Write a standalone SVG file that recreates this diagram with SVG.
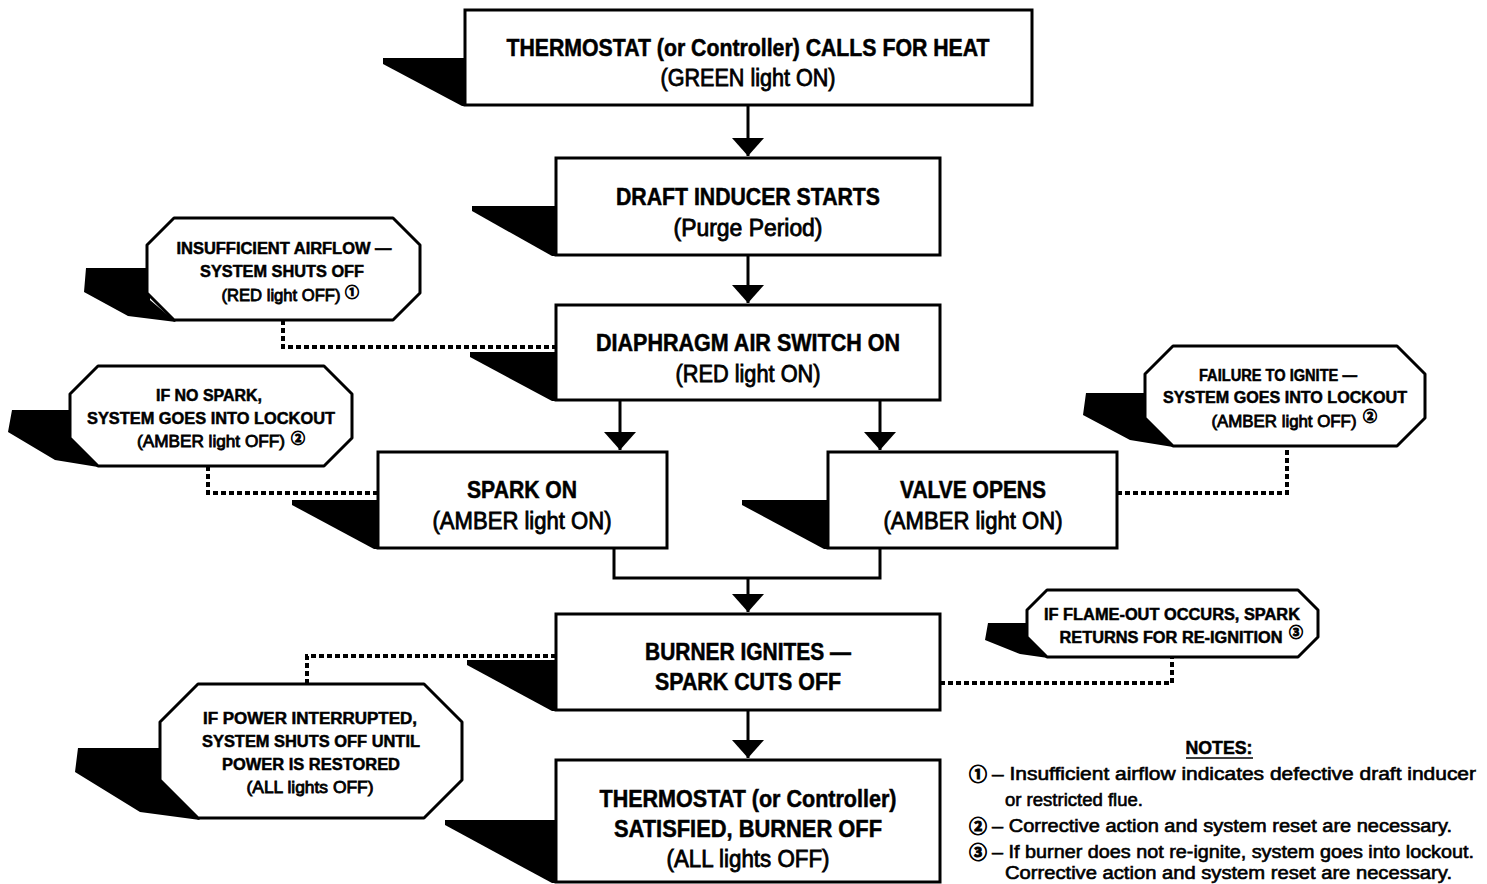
<svg xmlns="http://www.w3.org/2000/svg" width="1487" height="884" viewBox="0 0 1487 884">
<style>
.box{fill:#fff;stroke:#000;stroke-width:3}
.oct{fill:#fff;stroke:#000;stroke-width:3;stroke-linejoin:round}
.sh{fill:#000}
.conn{stroke:#000;stroke-width:3;fill:none}
.dot{stroke:#000;stroke-width:4;stroke-dasharray:5 3;fill:none}
.t{font-family:"Liberation Sans",Arial,sans-serif;font-weight:700;text-anchor:middle;fill:#000;stroke:#000;stroke-width:0.5}
.big{font-size:23px}
.sm{font-size:16px}
.m{font-weight:400;stroke-width:0.8}
.num{font-family:"Noto Sans CJK JP","DejaVu Sans",sans-serif;font-weight:700;fill:#000;stroke:#000;stroke-width:0.9;text-anchor:middle}
.sup{font-size:14px}
.note{font-family:"Liberation Sans",Arial,sans-serif;font-size:18px;font-weight:400;stroke:#000;stroke-width:0.6;fill:#000}
</style>
<defs>
<marker id="ah" viewBox="0 0 18 32" refX="18" refY="16" markerWidth="18" markerHeight="32" markerUnits="userSpaceOnUse" orient="auto">
<path d="M0,0 L18,16 L0,32 z" fill="#000"/>
</marker>
</defs>
<rect width="1487" height="884" fill="#fff"/>

<g id="connectors">
<path class="conn" d="M748,105 V156" marker-end="url(#ah)"/>
<path class="conn" d="M748,255 V303" marker-end="url(#ah)"/>
<path class="conn" d="M620,400 V450" marker-end="url(#ah)"/>
<path class="conn" d="M880,400 V450" marker-end="url(#ah)"/>
<path class="conn" d="M614,548 V578 H880 V548"/>
<path class="conn" d="M748,578 V612" marker-end="url(#ah)"/>
<path class="conn" d="M748,710 V758" marker-end="url(#ah)"/>
<path class="dot" d="M283,320 V347 H556"/>
<path class="dot" d="M208,466 V493 H378"/>
<path class="dot" d="M1117,493 H1287 V446"/>
<path class="dot" d="M940,683 H1172 V657"/>
<path class="dot" d="M556,656 H307 V684"/>
</g>

<g id="n1">
<polygon class="sh" points="383,58 467,58 467,106 462,106 383,64"/>
<rect class="box" x="465" y="10" width="567" height="95"/>
<text class="t big" x="748" y="56" textLength="483" lengthAdjust="spacingAndGlyphs">THERMOSTAT (or Controller) CALLS FOR HEAT</text>
<text class="t big m" x="748" y="86" textLength="175" lengthAdjust="spacingAndGlyphs">(GREEN light ON)</text>
</g>

<g id="n2">
<polygon class="sh" points="472,206 558,206 558,256 552,256 472,211"/>
<rect class="box" x="556" y="158" width="384" height="97"/>
<text class="t big" x="748" y="205" textLength="264" lengthAdjust="spacingAndGlyphs">DRAFT INDUCER STARTS</text>
<text class="t big m" x="748" y="236" textLength="149" lengthAdjust="spacingAndGlyphs">(Purge Period)</text>
</g>

<g id="n3">
<polygon class="sh" points="470,352 558,352 558,401 552,401 470,357"/>
<rect class="box" x="556" y="305" width="384" height="95"/>
<text class="t big" x="748" y="351" textLength="304" lengthAdjust="spacingAndGlyphs">DIAPHRAGM AIR SWITCH ON</text>
<text class="t big m" x="748" y="382" textLength="145" lengthAdjust="spacingAndGlyphs">(RED light ON)</text>
</g>

<g id="n4">
<polygon class="sh" points="292,500 380,500 380,549 374,549 292,505"/>
<rect class="box" x="378" y="452" width="289" height="96"/>
<text class="t big" x="522" y="498" textLength="110" lengthAdjust="spacingAndGlyphs">SPARK ON</text>
<text class="t big m" x="522" y="529" textLength="179" lengthAdjust="spacingAndGlyphs">(AMBER light ON)</text>
</g>

<g id="n5">
<polygon class="sh" points="742,500 830,500 830,549 824,549 742,505"/>
<rect class="box" x="828" y="452" width="289" height="96"/>
<text class="t big" x="973" y="498" textLength="146" lengthAdjust="spacingAndGlyphs">VALVE OPENS</text>
<text class="t big m" x="973" y="529" textLength="179" lengthAdjust="spacingAndGlyphs">(AMBER light ON)</text>
</g>

<g id="n6">
<polygon class="sh" points="467,660 558,660 558,711 552,711 467,665"/>
<rect class="box" x="556" y="614" width="384" height="96"/>
<text class="t big" x="748" y="660" textLength="206" lengthAdjust="spacingAndGlyphs">BURNER IGNITES —</text>
<text class="t big" x="748" y="690" textLength="186" lengthAdjust="spacingAndGlyphs">SPARK CUTS OFF</text>
</g>

<g id="n7">
<polygon class="sh" points="445,820 558,820 558,883 552,883 445,825"/>
<rect class="box" x="556" y="760" width="384" height="122"/>
<text class="t big" x="748" y="807" textLength="297" lengthAdjust="spacingAndGlyphs">THERMOSTAT (or Controller)</text>
<text class="t big" x="748" y="837" textLength="268" lengthAdjust="spacingAndGlyphs">SATISFIED, BURNER OFF</text>
<text class="t big m" x="748" y="867" textLength="163" lengthAdjust="spacingAndGlyphs">(ALL lights OFF)</text>
</g>

<g id="o1">
<polygon class="sh" points="86,268 150,268 150,300 176,322 128,316 84,292"/>
<polygon class="oct" points="174,218 393,218 420,245 420,293 393,320 174,320 147,293 147,245"/>
<text class="t sm" x="284" y="254" textLength="215" lengthAdjust="spacingAndGlyphs">INSUFFICIENT AIRFLOW —</text>
<text class="t sm" x="282" y="277" textLength="164" lengthAdjust="spacingAndGlyphs">SYSTEM SHUTS OFF</text>
<text class="t sm m" x="281" y="301" textLength="119" lengthAdjust="spacingAndGlyphs">(RED light OFF)</text>
<text class="num sup" x="352" y="297">①</text>
</g>

<g id="o2">
<polygon class="sh" points="12,410 73,410 73,440 98,467 55,460 8,432"/>
<polygon class="oct" points="98,366 324,366 352,394 352,438 324,466 98,466 70,438 70,394"/>
<text class="t sm" x="209" y="401" textLength="106" lengthAdjust="spacingAndGlyphs">IF NO SPARK,</text>
<text class="t sm" x="211" y="424" textLength="248" lengthAdjust="spacingAndGlyphs">SYSTEM GOES INTO LOCKOUT</text>
<text class="t sm m" x="211" y="447" textLength="148" lengthAdjust="spacingAndGlyphs">(AMBER light OFF)</text>
<text class="num sup" x="298" y="443">②</text>
</g>

<g id="o3">
<polygon class="sh" points="1086,393 1148,393 1148,420 1173,447 1130,440 1083,415"/>
<polygon class="oct" points="1173,346 1397,346 1425,374 1425,418 1397,446 1173,446 1145,418 1145,374"/>
<text class="t sm" x="1278" y="381" textLength="158" lengthAdjust="spacingAndGlyphs">FAILURE TO IGNITE —</text>
<text class="t sm" x="1285" y="403" textLength="244" lengthAdjust="spacingAndGlyphs">SYSTEM GOES INTO LOCKOUT</text>
<text class="t sm m" x="1284" y="427" textLength="145" lengthAdjust="spacingAndGlyphs">(AMBER light OFF)</text>
<text class="num sup" x="1370" y="421">②</text>
</g>

<g id="o4">
<polygon class="sh" points="988,623 1030,623 1030,640 1048,658 1020,654 985,640"/>
<polygon class="oct" points="1047,590 1298,590 1318,610 1318,637 1298,657 1047,657 1027,637 1027,610"/>
<text class="t sm" x="1172" y="620" textLength="256" lengthAdjust="spacingAndGlyphs">IF FLAME-OUT OCCURS, SPARK</text>
<text class="t sm" x="1171" y="643" textLength="223" lengthAdjust="spacingAndGlyphs">RETURNS FOR RE-IGNITION</text>
<text class="num sup" x="1296" y="637">③</text>
</g>

<g id="o5">
<polygon class="sh" points="78,748 163,748 163,780 200,820 140,812 75,772"/>
<polygon class="oct" points="198,684 424,684 462,722 462,780 424,818 198,818 160,780 160,722"/>
<text class="t sm" x="310" y="724" textLength="214" lengthAdjust="spacingAndGlyphs">IF POWER INTERRUPTED,</text>
<text class="t sm" x="311" y="747" textLength="218" lengthAdjust="spacingAndGlyphs">SYSTEM SHUTS OFF UNTIL</text>
<text class="t sm" x="311" y="770" textLength="178" lengthAdjust="spacingAndGlyphs">POWER IS RESTORED</text>
<text class="t sm m" x="310" y="793" textLength="127" lengthAdjust="spacingAndGlyphs">(ALL lights OFF)</text>
</g>

<g id="notes">
<text class="t" x="1219" y="754" font-size="18" textLength="67" lengthAdjust="spacingAndGlyphs">NOTES:</text>
<line x1="1186" y1="758" x2="1253" y2="758" stroke="#000" stroke-width="1.5"/>
<text class="num" x="978" y="781" font-size="18">①</text>
<text class="note" x="992" y="780" textLength="484" lengthAdjust="spacingAndGlyphs">– Insufficient airflow indicates defective draft inducer</text>
<text class="note" x="1005" y="806" textLength="138" lengthAdjust="spacingAndGlyphs">or restricted flue.</text>
<text class="num" x="978" y="833" font-size="18">②</text>
<text class="note" x="992" y="832" textLength="460" lengthAdjust="spacingAndGlyphs">– Corrective action and system reset are necessary.</text>
<text class="num" x="978" y="859" font-size="18">③</text>
<text class="note" x="992" y="858" textLength="482" lengthAdjust="spacingAndGlyphs">– If burner does not re-ignite, system goes into lockout.</text>
<text class="note" x="1005" y="879" textLength="447" lengthAdjust="spacingAndGlyphs">Corrective action and system reset are necessary.</text>
</g>
</svg>
